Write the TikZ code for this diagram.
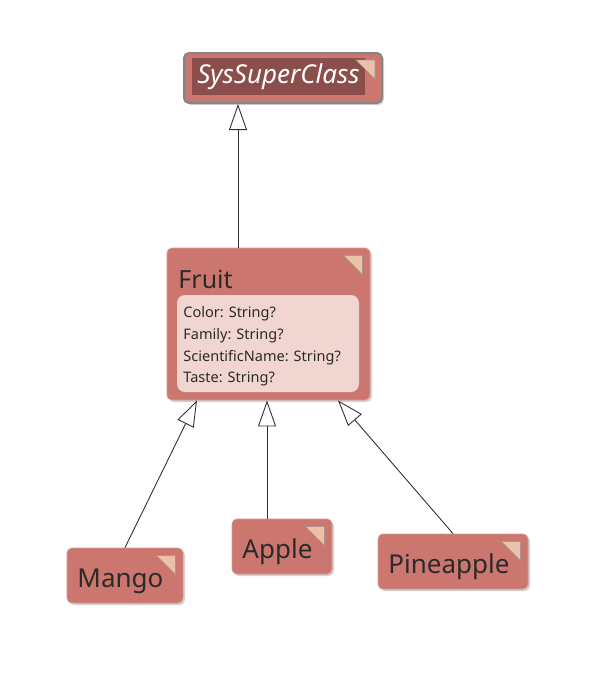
\documentclass[tikz,border=0pt]{standalone}
\usepackage{xcolor}
\usepackage{fontspec}
\setmainfont{Noto Sans}
\usetikzlibrary{arrows.meta,shadows,positioning}

\definecolor{boxred}{HTML}{CB776F}
\definecolor{boxedge}{HTML}{DA958D}
\definecolor{supercore}{HTML}{8C4E4A}
\definecolor{superedge}{HTML}{858585}
\definecolor{attrfill}{HTML}{F1D5D1}
\definecolor{cornerfill}{HTML}{EDC0A8}
\definecolor{cornerline}{HTML}{A8968E}
\definecolor{textdark}{HTML}{2A2A2A}
\definecolor{linkgray}{HTML}{333333}

\newcommand{\dogear}[1]{\filldraw[fill=cornerfill,draw=cornerline,line width=0.7pt]
    ([shift={(-27,8)}]#1.north east) -- ([shift={(-8,8)}]#1.north east)
    -- ([shift={(-8,27)}]#1.north east) -- cycle;}

\begin{document}
\begin{tikzpicture}[x=1pt,y=-1pt,>={Triangle[open,length=26pt,width=18pt]},
            line width=0.9pt]
        \tikzstyle{class}=[rectangle,rounded corners=5pt,fill=boxred,draw=boxedge,
            line width=0.8pt,minimum height=55pt,inner sep=0pt,
            drop shadow={shadow xshift=2pt,shadow yshift=-2pt,opacity=0.35}]
        \tikzstyle{title}=[text=textdark,font=\fontsize{26}{30}\selectfont,inner sep=0pt]
        \tikzstyle{attr}=[text=textdark,font=\fontsize{14.5}{17}\selectfont,inner sep=0pt,
            anchor=base west]
        \tikzstyle{inherit}=[->,draw=linkgray]

        \useasboundingbox (0,0) rectangle (600,689);

        \node[class,draw=superedge,line width=2pt,minimum width=198pt,minimum height=50pt]
            (super) at (283,78) {};
        \node[fill=supercore,text=white,inner sep=0pt,minimum width=173pt,minimum height=37pt,
            font=\fontsize{26}{30}\selectfont\itshape] (supername) at (278.5,76.5) {SysSuperClass};
        \dogear{super}

        \node[class,minimum width=203pt,minimum height=152pt] (fruit) at (268.5,324) {};
        \node[fill=attrfill,rounded corners=8pt,minimum width=182pt,minimum height=97pt]
            (attrs) at (268,343.5) {};
        \node[title,font=\fontsize{25}{30}\selectfont,anchor=base west] (fruitname) at (178,288) {Fruit};
        \node[attr] (color) at (183,317) {Color: String?};
        \node[attr] (family) at (183,339) {Family: String?};
        \node[attr] (sciname) at (183,361) {ScientificName: String?};
        \node[attr] (taste) at (183,382.5) {Taste: String?};
        \dogear{fruit}

        \node[class,minimum width=116pt] (mango) at (125,575.5) {};
        \node[title,anchor=base west] (mangoname) at (77,587) {Mango};
        \dogear{mango}

        \node[class,minimum width=100pt] (apple) at (282,546.5) {};
        \node[title,anchor=base west] (applename) at (242,558) {Apple};
        \dogear{apple}

        \node[class,minimum width=150pt] (pineapple) at (453,561.5) {};
        \node[title,anchor=base west] (pineapplename) at (388,573) {Pineapple};
        \dogear{pineapple}

        \draw[inherit] ([xshift=-30.5pt]fruit.north) -- ([xshift=-45pt]super.south);
        \draw[inherit] (mango.north) -- ([xshift=-71.5pt]fruit.south);
        \draw[inherit] ([xshift=-15pt]apple.north) -- ([xshift=-1.5pt]fruit.south);
        \draw[inherit] (pineapple.north) -- ([xshift=69.5pt]fruit.south);
    \end{tikzpicture}
\end{document}
